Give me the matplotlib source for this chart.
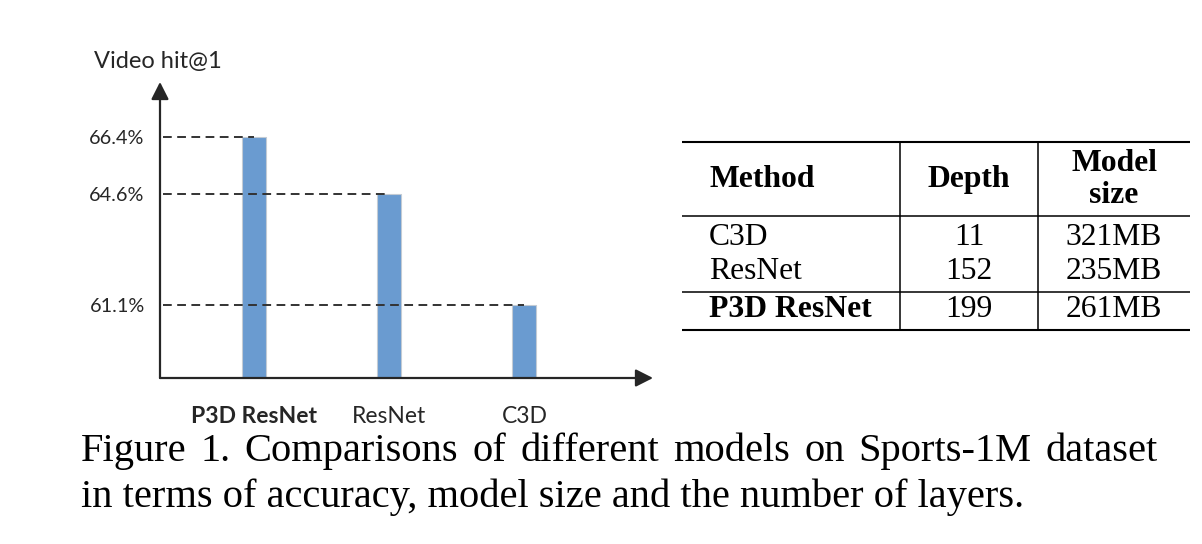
import matplotlib
matplotlib.use("Agg")
import matplotlib.pyplot as plt

# bar chart data
models = ["P3D ResNet", "ResNet", "C3D"]
hit1 = [66.4, 64.6, 61.1]
hit1_labels = ["66.4%", "64.6%", "61.1%"]

# table data
table_header = ["Method", "Depth", "Model\nsize"]
table_methods = ["C3D", "ResNet", "P3D ResNet"]
table_depth = ["11", "152", "199"]
table_size = ["321MB", "235MB", "261MB"]

caption_1 = "Figure 1. Comparisons of different models on Sports-1M dataset"
caption_2 = "in terms of accuracy, model size and the number of layers."

W, H = 1202, 544
SANS = ["Lato", "DejaVu Sans"]
SERIF = ["Liberation Serif", "DejaVu Serif"]
DARK = "#262626"

fig = plt.figure(figsize=(W / 100, H / 100), dpi=100)

# overlay in pixel coordinates for table / captions
ov = fig.add_axes([0, 0, 1, 1], zorder=0)
ov.set_xlim(0, W)
ov.set_ylim(H, 0)
ov.axis("off")

# ---- bar chart ----
ax = fig.add_axes([160 / W, (H - 378) / H, 493 / W, 296 / H], zorder=1)
ax.patch.set_alpha(0)
x = list(range(len(models)))
ax.bar(x, hit1, width=0.177, color="#6a9bd0", edgecolor="#c3cbd4",
       linewidth=0.8, zorder=2)
ax.set_xlim(-0.692, 2.95)
ax.set_ylim(58.78, 68.14)

# dashed guides from the axis to the centre of each bar
for xi, v in zip(x, hit1):
    ax.plot([-0.67, xi], [v, v], color="#333333", lw=1.4,
            ls=(0, (4.5, 2.8)), zorder=3)

for s in ax.spines.values():
    s.set_visible(False)
arrow = dict(arrowstyle="-|>,head_length=0.75,head_width=0.38",
             color=DARK, lw=1.6, shrinkA=0, shrinkB=0, mutation_scale=14)
ax.annotate("", xy=(0, 1), xytext=(0, 0), xycoords="axes fraction",
            arrowprops=arrow)
ax.annotate("", xy=(1, 0), xytext=(0, 0), xycoords="axes fraction",
            arrowprops=arrow)

ax.set_yticks(hit1)
ax.set_yticklabels(hit1_labels, family=SANS, fontsize=14.3, color=DARK)
ax.set_xticks(x)
ax.set_xticklabels(models, family=SANS, fontsize=16.5, color=DARK)
ax.get_xticklabels()[0].set_fontweight("bold")
ax.tick_params(axis="y", length=0, pad=11)
ax.tick_params(axis="x", length=0, pad=20.5)

ov.text(94, 68, "Video hit@1", family=SANS, fontsize=17, color=DARK,
        va="baseline", ha="left")

# ---- table ----
tl, tr = 682, 1190
ov.hlines([142, 330], tl, tr, color="black", lw=1.5)
ov.hlines([216, 292], tl, tr, color="black", lw=1.1)
ov.vlines([900, 1038], 142, 330, color="black", lw=1.1)

ov.text(709, 187, table_header[0], family=SERIF, fontsize=22.8,
        fontweight="bold", va="baseline")
ov.text(969, 187, table_header[1], family=SERIF, fontsize=22.8,
        fontweight="bold", va="baseline", ha="center")
for yb, word in zip([171, 203], table_header[2].split("\n")):
    ov.text(1114, yb, word, family=SERIF, fontsize=22.8,
            fontweight="bold", va="baseline", ha="center")

row_base = [245, 279, 317]
for i, (m, d, s) in enumerate(zip(table_methods, table_depth, table_size)):
    wt = "bold" if i == len(table_methods) - 1 else "normal"
    ov.text(709, row_base[i], m, family=SERIF, fontsize=22.8,
            fontweight=wt, va="baseline")
    ov.text(969, row_base[i], d, family=SERIF, fontsize=22.8,
            va="baseline", ha="center")
    ov.text(1114, row_base[i], s, family=SERIF, fontsize=22.8,
            va="baseline", ha="center")

# ---- caption (first line justified) ----
renderer = fig.canvas.get_renderer()


def justified(line, x0, x1, y, **kw):
    words = line.split()
    texts = [ov.text(0, y, w, va="baseline", **kw) for w in words]
    widths = [t.get_window_extent(renderer).width for t in texts]
    gap = (x1 - x0 - sum(widths)) / (len(words) - 1)
    xc = x0
    for t, w in zip(texts, widths):
        t.set_x(xc)
        xc += w + gap


cap_kw = dict(family=SERIF, fontsize=29.2, color="black")
justified(caption_1, 81, 1158, 461, **cap_kw)
ov.text(81, 507, caption_2, va="baseline", **cap_kw)

fig.savefig("out.png", dpi=100)
